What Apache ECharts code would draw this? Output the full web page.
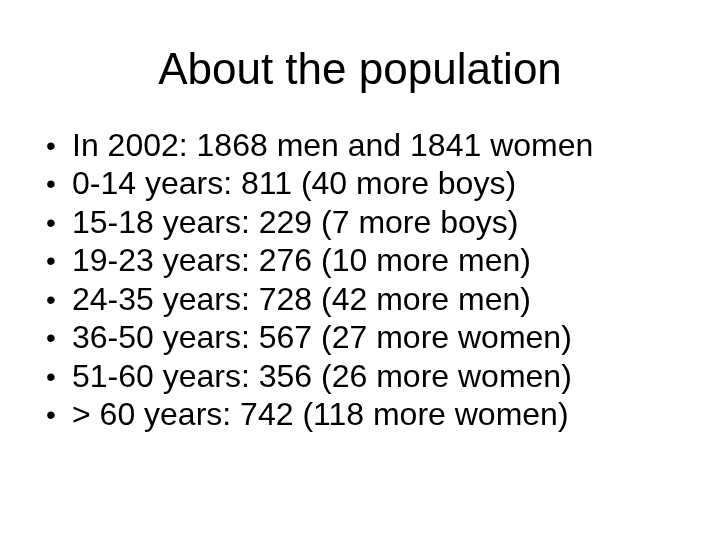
<!DOCTYPE html>
<html>
<head>
<meta charset="utf-8">
<script src="https://cdn.jsdelivr.net/npm/echarts@6/dist/echarts.min.js"></script>
<style>
  html, body { margin: 0; padding: 0; background: #fff; }
  #chart { width: 720px; height: 540px; }
</style>
</head>
<body>
<div id="chart"></div>
<script>
// slide content
const slideTitle = 'About the population';
const bulletLines = [
    'In 2002: 1868 men and 1841 women',
    '0-14 years: 811 (40 more boys)',
    '15-18 years: 229 (7 more boys)',
    '19-23 years: 276 (10 more men)',
    '24-35 years: 728 (42 more men)',
    '36-50 years: 567 (27 more women)',
    '51-60 years: 356 (26 more women)',
    '> 60 years: 742 (118 more women)'
];

const chart = echarts.init(document.getElementById('chart'));
const font = '"Liberation Sans", Arial, sans-serif';

const elements = [];
bulletLines.forEach((line, i) => {
    const y = 148 + i * 38.5;
    elements.push({
        type: 'text', left: 46, top: y - 15,
        style: { text: '•', font: '28px ' + font, fill: '#000' }
    });
    elements.push({
        type: 'text', left: 72, top: y - 17,
        style: { text: line, font: '32px ' + font, fill: '#000' }
    });
});

chart.setOption({
    backgroundColor: '#fff',
    title: {
        text: slideTitle,
        left: 'center',
        top: 45,
        textStyle: { fontFamily: font, fontSize: 44, fontWeight: 'normal', color: '#000' }
    },
    graphic: elements
});
</script>
</body>
</html>
